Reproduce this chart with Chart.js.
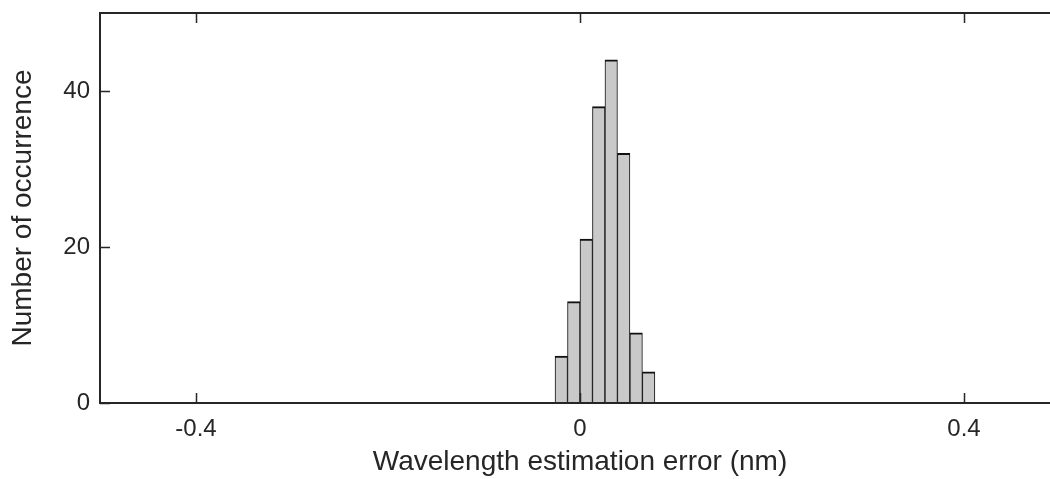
<!DOCTYPE html>
<html>
<head>
<meta charset="utf-8">
<script src="https://cdn.jsdelivr.net/npm/chart.js@4/dist/chart.umd.min.js"></script>
<style>
  html, body { margin: 0; padding: 0; background: #fff; overflow: hidden; }
  #wrap { width: 1050px; height: 479px; overflow: hidden; }
  canvas { display: block; }
</style>
</head>
<body>
<div id="wrap">
  <canvas id="histChart" width="1060" height="479"></canvas>
</div>
<script>
'use strict';
// ---------------------- Data -----------------
const binCenters = [-0.0195, -0.0065, 0.0065, 0.0195, 0.0325, 0.0455, 0.0585, 0.0715];
const counts = [6, 13, 21, 38, 44, 32, 9, 4];
const xTicks = [-0.4, 0, 0.4];
const yTicks = [0, 20, 40];
const xTitle = 'Wavelength estimation error (nm)';
const yTitle = 'Number of occurrence';

const axisColor = '#262626';
const fontFamily = '"Liberation Sans", Arial, Helvetica, sans-serif';

// ---------------------- Helpers -----------------
function makePoints(xs, ys) {
  const points = [];
  for (let i = 0; i < xs.length; i++) {
    points.push({ x: xs[i], y: ys[i] });
  }
  return points;
}

// box around the plot with inward ticks, matlab style
const boxPlugin = {
  id: 'boxPlugin',
  afterDraw(chart) {
    const ctx = chart.ctx;
    const area = chart.chartArea;
    const xs = chart.scales.x;
    const ys = chart.scales.y;
    const tickLen = 10;
    ctx.save();
    ctx.strokeStyle = axisColor;
    ctx.lineWidth = 2;
    ctx.strokeRect(area.left, area.top, area.right - area.left, area.bottom - area.top);
    ctx.lineWidth = 1.5;
    ctx.beginPath();
    for (let v of xTicks) {
      const px = Math.round(xs.getPixelForValue(v)) + 0.5;
      ctx.moveTo(px, area.bottom);
      ctx.lineTo(px, area.bottom - tickLen);
      ctx.moveTo(px, area.top);
      ctx.lineTo(px, area.top + tickLen);
    }
    for (let v of yTicks) {
      const py = Math.round(ys.getPixelForValue(v)) + 0.5;
      ctx.moveTo(area.left, py);
      ctx.lineTo(area.left + tickLen, py);
      ctx.moveTo(area.right, py);
      ctx.lineTo(area.right - tickLen, py);
    }
    ctx.stroke();
    ctx.restore();
  }
};

// ---------------------- Chart -----------------
const context = document.getElementById('histChart').getContext('2d');
const histChart = new Chart(context, {
  type: 'bar',
  data: {
    datasets: [{
      label: 'Occurrences',
      data: makePoints(binCenters, counts),
      backgroundColor: '#c9c9c9',
      borderColor: '#111111',
      borderWidth: { top: 2, left: 1, right: 1, bottom: 0 },
      borderSkipped: false,
      barPercentage: 1,
      categoryPercentage: 1
    }]
  },
  plugins: [boxPlugin],
  options: {
    responsive: false,
    animation: false,
    devicePixelRatio: 1,
    layout: { padding: { top: 13, right: 0, left: 0, bottom: 0 } },
    plugins: {
      legend: { display: false },
      tooltip: { enabled: false }
    },
    scales: {
      x: {
        type: 'linear',
        offset: false,
        min: -0.5,
        max: 0.5,
        grid: { display: false, drawTicks: false },
        border: { display: false },
        afterBuildTicks: (scale) => { scale.ticks = xTicks.map(v => ({ value: v })); },
        afterFit: (scale) => {
          scale.height = 76;
          scale.paddingLeft = 0;
          scale.paddingRight = 0;
        },
        ticks: {
          color: axisColor,
          padding: 12,
          maxRotation: 0,
          font: { family: fontFamily, size: 24 },
          callback: (v) => String(v)
        },
        title: {
          display: true,
          text: xTitle,
          color: axisColor,
          padding: { top: 0, bottom: 0 },
          font: { family: fontFamily, size: 28 }
        }
      },
      y: {
        min: 0,
        max: 50,
        grid: { display: false, drawTicks: false },
        border: { display: false },
        afterBuildTicks: (scale) => { scale.ticks = yTicks.map(v => ({ value: v })); },
        afterFit: (scale) => {
          scale.width = 100;
          scale.paddingTop = 0;
          scale.paddingBottom = 0;
        },
        ticks: {
          color: axisColor,
          padding: 10,
          font: { family: fontFamily, size: 24 }
        },
        title: {
          display: true,
          text: yTitle,
          color: axisColor,
          padding: { top: 6, bottom: 0 },
          font: { family: fontFamily, size: 28 }
        }
      }
    }
  }
});
</script>
</body>
</html>
